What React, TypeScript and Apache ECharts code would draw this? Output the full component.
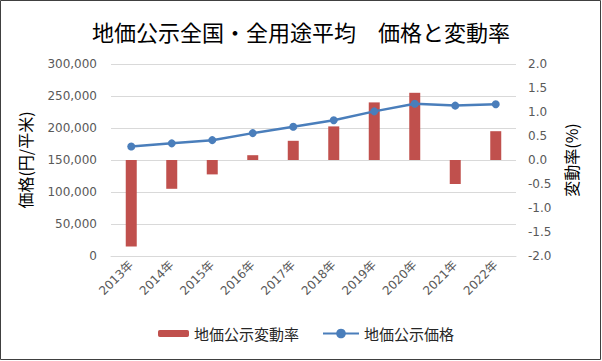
import React, { useEffect, useRef } from "react";
import * as echarts from "echarts";

const categories = ["2013年", "2014年", "2015年", "2016年", "2017年", "2018年", "2019年", "2020年", "2021年", "2022年"];
const changeRate = [-1.8, -0.6, -0.3, 0.1, 0.4, 0.7, 1.2, 1.4, -0.5, 0.6];
const price = [171000, 176000, 181000, 192000, 202000, 212000, 226000, 238000, 235000, 237000];

const FONT = "'DejaVu Sans', 'Noto Sans CJK JP', sans-serif";
const CJK = "'Noto Sans CJK JP', 'DejaVu Sans', sans-serif";

export default function App() {
  const ref = useRef<HTMLDivElement>(null);
  useEffect(() => {
    document.body.style.margin = "0";
    const chart = echarts.init(ref.current!, undefined, { renderer: "svg" });
    chart.setOption({
      animation: false,
      backgroundColor: "#ffffff",
      title: {
        text: "地価公示全国・全用途平均　価格と変動率",
        left: "center",
        top: 15,
        textStyle: { fontFamily: CJK, fontSize: 22, fontWeight: "normal", color: "#000000" },
      },
      graphic: [
        {
          type: "rect",
          shape: { x: 0.5, y: 0.5, width: 600, height: 359 },
          style: { fill: "none", stroke: "#404040", lineWidth: 1 },
          silent: true,
        },
      ],
      grid: { left: 111, right: 86, top: 64, bottom: 105 },
      legend: [
        {
          data: ["地価公示変動率"],
          left: 153,
          top: 321,
          itemWidth: 31,
          itemHeight: 7,
          textStyle: { fontFamily: CJK, fontSize: 15, color: "#262626" },
        },
        {
          data: ["地価公示価格"],
          left: 317,
          top: 321,
          itemWidth: 36,
          itemHeight: 12,
          textStyle: { fontFamily: CJK, fontSize: 15, color: "#262626" },
        },
      ],
      xAxis: {
        type: "category",
        data: categories,
        axisTick: { show: false },
        axisLine: { lineStyle: { color: "#d9d9d9" } },
        axisLabel: { rotate: 45, fontFamily: FONT, fontSize: 12, color: "#595959", margin: 7, interval: 0 },
      },
      yAxis: [
        {
          type: "value",
          min: 0,
          max: 300000,
          interval: 50000,
          name: "価格(円/平米)",
          nameLocation: "middle",
          nameRotate: 90,
          nameGap: 78,
          nameTextStyle: { fontFamily: CJK, fontSize: 16, color: "#000000" },
          axisLabel: {
            fontFamily: FONT,
            fontSize: 12,
            color: "#595959",
            margin: 14,
            formatter: (v: number) => v.toLocaleString("en-US"),
          },
          splitLine: { lineStyle: { color: "#d9d9d9" } },
          axisLine: { show: false },
          axisTick: { show: false },
        },
        {
          type: "value",
          min: -2,
          max: 2,
          interval: 0.5,
          name: "変動率(%)",
          nameLocation: "middle",
          nameRotate: 90,
          nameGap: 47,
          nameTextStyle: { fontFamily: CJK, fontSize: 16, color: "#000000" },
          axisLabel: {
            fontFamily: FONT,
            fontSize: 12,
            color: "#595959",
            margin: 12,
            formatter: (v: number) => v.toFixed(1),
          },
          splitLine: { show: false },
          axisLine: { show: false },
          axisTick: { show: false },
        },
      ],
      series: [
        {
          name: "地価公示変動率",
          type: "bar",
          yAxisIndex: 1,
          data: changeRate,
          barWidth: 11,
          itemStyle: { color: "#C0504D" },
        },
        {
          name: "地価公示価格",
          type: "line",
          yAxisIndex: 0,
          data: price,
          symbol: "circle",
          symbolSize: 8,
          lineStyle: { color: "#4A7EBB", width: 2.5 },
          itemStyle: { color: "#4A7EBB" },
        },
      ],
    });
    return () => chart.dispose();
  }, []);
  return <div ref={ref} style={{ position: "absolute", left: 0, top: 0, width: 602, height: 361 }} />;
}
